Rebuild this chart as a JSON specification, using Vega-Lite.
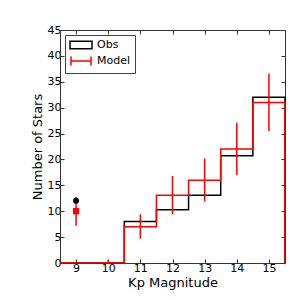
{
  "$schema": "https://vega.github.io/schema/vega-lite/v6.json",
  "autosize": "none",
  "width": 225,
  "height": 233,
  "padding": {"left": 60, "top": 30, "right": 15, "bottom": 37},
  "background": "white",
  "config": {
    "font": "DejaVu Sans",
    "view": {"stroke": null},
    "axis": {
      "grid": false,
      "domainColor": "#333",
      "domainWidth": 1,
      "tickColor": "#333",
      "tickSize": -4,
      "labelColor": "black",
      "titleColor": "black",
      "labelFont": "DejaVu Sans",
      "titleFont": "DejaVu Sans",
      "labelFontSize": 11,
      "titleFontSize": 13,
      "titleFontWeight": "normal",
      "labelPadding": 3
    }
  },
  "datasets": {
    "step": [
      {"edge": 8.5, "value": 0, "series": "Obs"},
      {"edge": 10.5, "value": 8, "series": "Obs"},
      {"edge": 11.5, "value": 10.3, "series": "Obs"},
      {"edge": 12.5, "value": 13.1, "series": "Obs"},
      {"edge": 13.5, "value": 20.7, "series": "Obs"},
      {"edge": 14.5, "value": 32, "series": "Obs"},
      {"edge": 15.5, "value": 0, "series": "Obs"},
      {"edge": 8.5, "value": 0, "series": "Model"},
      {"edge": 10.5, "value": 7, "series": "Model"},
      {"edge": 11.5, "value": 13.1, "series": "Model"},
      {"edge": 12.5, "value": 16, "series": "Model"},
      {"edge": 13.5, "value": 22, "series": "Model"},
      {"edge": 14.5, "value": 31, "series": "Model"},
      {"edge": 15.5, "value": 0, "series": "Model"}
    ],
    "err": [
      {"kp": 9, "model": 10, "lo": 7.2, "hi": 12.8},
      {"kp": 10, "model": 0, "lo": 0, "hi": 0.6},
      {"kp": 11, "model": 7, "lo": 4.7, "hi": 9.4},
      {"kp": 12, "model": 13.1, "lo": 9.4, "hi": 16.8},
      {"kp": 13, "model": 16, "lo": 11.9, "hi": 20.2},
      {"kp": 14, "model": 22, "lo": 17.0, "hi": 27.1},
      {"kp": 15, "model": 31, "lo": 25.5, "hi": 36.6}
    ],
    "single": [
      {"kp": 9, "obs": 12, "model": 10}
    ]
  },
  "resolve": {"axis": {"x": "independent", "y": "independent"}},
  "layer": [
    {
      "data": {"name": "step"},
      "mark": {"type": "line", "interpolate": "step-after", "strokeWidth": 1.5},
      "encoding": {
        "x": {
          "field": "edge", "type": "quantitative",
          "scale": {"domain": [8.5, 15.5], "nice": false, "zero": false},
          "axis": {"orient": "bottom", "title": "Kp Magnitude", "values": [9, 10, 11, 12, 13, 14, 15], "titlePadding": 3}
        },
        "y": {
          "field": "value", "type": "quantitative",
          "scale": {"domain": [0, 45], "nice": false},
          "axis": {"orient": "left", "title": "Number of Stars", "values": [0, 5, 10, 15, 20, 25, 30, 35, 40, 45], "titlePadding": 3}
        },
        "color": {
          "field": "series", "type": "nominal",
          "scale": {"domain": ["Obs", "Model"], "range": ["black", "red"]},
          "legend": {
            "title": null,
            "orient": "top-left",
            "offset": 5,
            "padding": 4,
            "strokeColor": "#444",
            "fillColor": "white",
            "labelFontSize": 11,
            "labelColor": "black",
            "labelFont": "DejaVu Sans",
            "symbolSize": 100,
            "symbolStrokeWidth": 1.5,
            "symbolOffset": 6,
            "labelOffset": 10,
            "rowPadding": 1,
            "encode": {
              "symbols": {
                "update": {
                  "shape": {"signal": "datum.value === 'Obs' ? 'M-2.2,-0.75H2.2V0.75H-2.2Z' : 'M-2,0H2M-2,-0.9V0.9M2,-0.9V0.9'"},
                  "fill": {"value": "transparent"}
                }
              }
            }
          }
        }
      }
    },
    {
      "data": {"name": "err"},
      "mark": {"type": "rule", "color": "red", "strokeWidth": 1.5},
      "encoding": {
        "x": {"field": "kp", "type": "quantitative", "axis": null},
        "y": {"field": "lo", "type": "quantitative", "axis": null},
        "y2": {"field": "hi"}
      }
    },
    {
      "data": {"name": "single"},
      "mark": {"type": "square", "color": "red", "filled": true, "opacity": 1, "size": 40},
      "encoding": {
        "x": {"field": "kp", "type": "quantitative", "axis": null},
        "y": {"field": "model", "type": "quantitative", "axis": null}
      }
    },
    {
      "data": {"name": "single"},
      "mark": {"type": "circle", "color": "black", "opacity": 1, "size": 36},
      "encoding": {
        "x": {"field": "kp", "type": "quantitative", "axis": {"orient": "top", "labels": false, "title": null, "values": [9, 10, 11, 12, 13, 14, 15]}},
        "y": {"field": "obs", "type": "quantitative", "axis": {"orient": "right", "labels": false, "title": null, "values": [0, 5, 10, 15, 20, 25, 30, 35, 40, 45]}}
      }
    }
  ]
}
